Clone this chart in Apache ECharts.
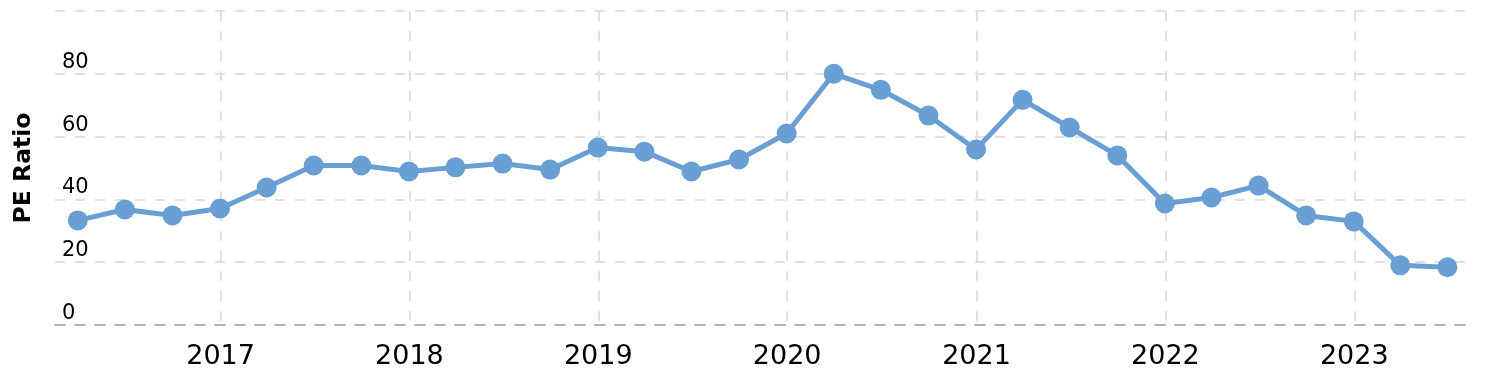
<!DOCTYPE html>
<html>
<head>
<meta charset="utf-8">
<script src="https://cdn.jsdelivr.net/npm/echarts@6/dist/echarts.min.js"></script>
<style>
html,body{margin:0;padding:0;background:#fff;}
#chart{width:1502px;height:380px;}
</style>
</head>
<body>
<div id="chart"></div>
<script>
const dates = [
  '2016-03-31','2016-06-30','2016-09-30','2016-12-31',
  '2017-03-31','2017-06-30','2017-09-30','2017-12-31',
  '2018-03-31','2018-06-30','2018-09-30','2018-12-31',
  '2019-03-31','2019-06-30','2019-09-30','2019-12-31',
  '2020-03-31','2020-06-30','2020-09-30','2020-12-31',
  '2021-03-31','2021-06-30','2021-09-30','2021-12-31',
  '2022-03-31','2022-06-30','2022-09-30','2022-12-31',
  '2023-03-31','2023-06-30'
];
const peRatio = [
  33.3, 36.8, 34.9, 37.1,
  43.8, 50.8, 50.8, 48.9,
  50.2, 51.4, 49.5, 56.5,
  55.2, 48.9, 52.7, 61.0,
  80.0, 74.9, 66.7, 55.9,
  71.7, 62.9, 54.0, 38.7,
  40.6, 44.4, 34.9, 33.0,
  19.0, 18.4
];
const yTicks = [0, 20, 40, 60, 80, 100];

const chart = echarts.init(document.getElementById('chart'), null, {renderer: 'canvas'});
const font = '"DejaVu Sans", Verdana, sans-serif';
chart.setOption({
  animation: false,
  grid: {left: 55, right: 37, top: 11, bottom: 55, containLabel: false},
  xAxis: {
    type: 'time',
    min: '2016-02-16',
    max: '2023-08-03',
    minInterval: 365 * 24 * 3600 * 1000,
    maxInterval: 366 * 24 * 3600 * 1000,
    axisLine: {show: true, lineStyle: {color: '#b3b3b3', width: 2, type: [10, 10]}},
    axisTick: {show: false},
    axisLabel: {
      formatter: '{yyyy}',
      color: '#000',
      fontFamily: font,
      fontSize: 27,
      margin: 18,
      hideOverlap: false,
      showMinLabel: false,
      showMaxLabel: false
    },
    splitLine: {show: true, showMinLine: false, showMaxLine: false,
      lineStyle: {color: '#e0e0e0', width: 2, type: [10, 10]}}
  },
  yAxis: {
    type: 'value',
    min: yTicks[0],
    max: yTicks[yTicks.length - 1],
    interval: 20,
    name: 'PE Ratio',
    nameLocation: 'middle',
    nameGap: 19,
    nameTextStyle: {fontFamily: font, fontSize: 23.5, fontWeight: 'bold', color: '#000'},
    axisLine: {show: false},
    axisTick: {show: false},
    axisLabel: {
      inside: true,
      margin: 7,
      verticalAlign: 'bottom',
      padding: [0, 0, 1, 0],
      color: '#000',
      fontFamily: font,
      fontSize: 21,
      formatter: v => (v === yTicks[yTicks.length - 1] ? '' : String(v))
    },
    splitLine: {show: true, lineStyle: {color: '#e0e0e0', width: 2, type: [10, 10]}}
  },
  series: [{
    type: 'line',
    data: dates.map((d, i) => [d, peRatio[i]]),
    symbol: 'circle',
    symbolSize: 20,
    showAllSymbol: true,
    lineStyle: {color: '#6a9fd4', width: 5},
    itemStyle: {color: '#6a9fd4'},
    z: 5
  }]
});
</script>
</body>
</html>
